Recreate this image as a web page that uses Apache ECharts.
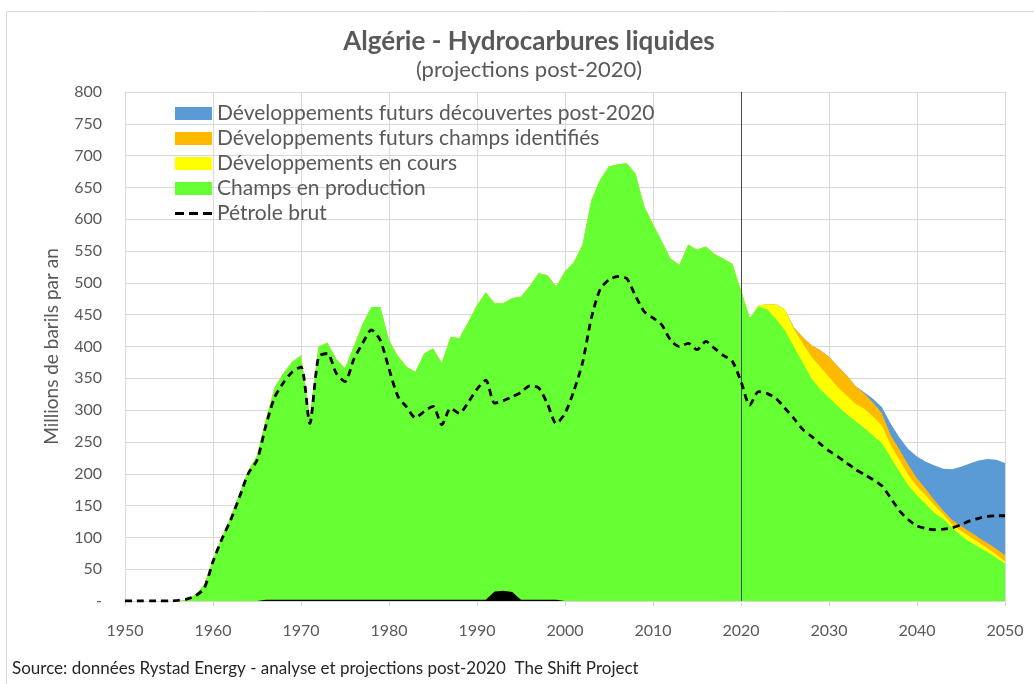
<!DOCTYPE html>
<html>
<head>
<meta charset="utf-8">
<script src="https://cdn.jsdelivr.net/npm/echarts@6/dist/echarts.min.js"></script>
<style>
html,body{margin:0;padding:0;background:#fff;}
#chart{width:1034px;height:684px;}
</style>
</head>
<body>
<div id="chart"></div>
<script>
const years = [1950,1951,1952,1953,1954,1955,1956,1957,1958,1959,
1960,1961,1962,1963,1964,1965,1966,1967,1968,1969,
1970,1971,1972,1973,1974,1975,1976,1977,1978,1979,
1980,1981,1982,1983,1984,1985,1986,1987,1988,1989,
1990,1991,1992,1993,1994,1995,1996,1997,1998,1999,
2000,2001,2002,2003,2004,2005,2006,2007,2008,2009,
2010,2011,2012,2013,2014,2015,2016,2017,2018,2019,
2020,2021,2022,2023,2024,2025,2026,2027,2028,2029,
2030,2031,2032,2033,2034,2035,2036,2037,2038,2039,
2040,2041,2042,2043,2044,2045,2046,2047,2048,2049,2050];

const champsProduction = [0,0,0,0,0,0,0,2,10,25,
65,100,132,168,205,228,285,335,358,376,
386,288,400,406,380,366,400,435,462,462,
410,385,368,360,389,397,374,415,413,438,
465,485,468,468,476,478,495,515,512,494,
518,532,560,630,662,683,686,688,672,620,
592,565,538,528,560,552,557,545,538,530,
488,444,463,458,443,425,400,375,350,333,
320,306,294,283,272,260,248,226,203,182,
166,152,138,129,115,103,93,85,77,68,59];

const devEnCours = [0,0,0,0,0,0,0,0,0,0,
0,0,0,0,0,0,0,0,0,0,
0,0,0,0,0,0,0,0,0,0,
0,0,0,0,0,0,0,0,0,0,
0,0,0,0,0,0,0,0,0,0,
0,0,0,0,0,0,0,0,0,0,
0,0,0,0,0,0,0,0,0,0,
0,0,2,8,23,33,28,30,34,35,
32,30,29,27,30,30,28,19,19,16,
14,14,12,7,5,7,8,7,6,5,3];

const devChampsIdentifies = [0,0,0,0,0,0,0,0,0,0,
0,0,0,0,0,0,0,0,0,0,
0,0,0,0,0,0,0,0,0,0,
0,0,0,0,0,0,0,0,0,0,
0,0,0,0,0,0,0,0,0,0,
0,0,0,0,0,0,0,0,0,0,
0,0,0,0,0,0,0,0,0,0,
0,0,0,0,0,0,2,10,18,26,
32,33,32,28,24,22,19,16,16,16,
13,10,8,6,7,8,8,8,8,9,10];

const devDecouvertes = [0,0,0,0,0,0,0,0,0,0,
0,0,0,0,0,0,0,0,0,0,
0,0,0,0,0,0,0,0,0,0,
0,0,0,0,0,0,0,0,0,0,
0,0,0,0,0,0,0,0,0,0,
0,0,0,0,0,0,0,0,0,0,
0,0,0,0,0,0,0,0,0,0,
0,0,0,0,0,0,0,0,0,0,
0,0,0,0,2,6,10,18,19,25,
34,43,55,66,80,93,107,121,132,140,145];

const autres = [0,0,0,0,0,0,0,0,0,0,
0,0,0,0,0,0,2,2,2,2,
2,2,2,2,2,2,2,2,2,2,
2,2,2,2,2,2,2,2,2,2,
2,2,15,16,14,2,2,2,2,2,
0,0,0,0,0,0,0,0,0,0,
0,0,0,0,0,0,0,0,0,0,
0,0,0,0,0,0,0,0,0,0,
0,0,0,0,0,0,0,0,0,0,
0,0,0,0,0,0,0,0,0,0,0];

const petroleBrut = [0,0,0,0,0,0,1,3,8,20,
62,97,127,163,200,221,275,320,343,360,
368,279,384,389,358,345,380,405,426,410,
365,322,305,288,298,306,277,303,295,312,
333,347,311,315,321,328,338,335,310,279,
295,330,375,445,490,505,510,507,480,455,
445,434,410,400,405,395,408,397,386,377,
345,308,329,326,318,303,287,270,259,247,
236,227,217,207,199,191,181,162,142,128,
118,114,112,113,115,120,126,130,133,134,134];

const yTicks = [0,50,100,150,200,250,300,350,400,450,500,550,600,650,700,750,800];
const xTicks = [1950,1960,1970,1980,1990,2000,2010,2020,2030,2040,2050];
const projectionYear = 2020;

const names = {
  blue: 'Développements futurs découvertes post-2020',
  orange: 'Développements futurs champs identifiés',
  yellow: 'Développements en cours',
  green: 'Champs en production',
  crude: 'Pétrole brut',
  other: 'Autres'
};

// stacked layers (cumulative tops), drawn back to front
const layers = [champsProduction, devEnCours, devChampsIdentifies, devDecouvertes];
const cumulative = [];
let running = years.map(() => 0);
layers.forEach(arr => { running = running.map((v, i) => v + arr[i]); cumulative.push(running.slice()); });

function pairs(arr){ return years.map((y,i)=>[y, arr[i]]); }

const FONT = 'Lato';
const GREY = '#595959';

const chart = echarts.init(document.getElementById('chart'), null, {renderer:'canvas'});

function area(name, data, color, z){
  return {
    name: name, type: 'line', data: pairs(data),
    symbol: 'none', smooth: false, color: color,
    lineStyle: {width: 0, color: color},
    areaStyle: {color: color, opacity: 1},
    itemStyle: {color: color},
    z: z, silent: true
  };
}

const dashIcon = 'path://M0,0h9v3h-9z M14,0h9v3h-9z M28,0h9v3h-9z';

const option = {
  animation: false,
  backgroundColor: '#ffffff',
  title: {
    text: 'Algérie - Hydrocarbures liquides',
    subtext: '(projections post-2020)',
    left: 524, top: 24, textAlign: 'center', itemGap: 4,
    textStyle: {fontFamily: FONT, fontSize: 26, fontWeight: 'bold', color: GREY},
    subtextStyle: {fontFamily: FONT, fontSize: 22, color: GREY}
  },
  grid: {left: 125, right: 29, top: 92, bottom: 83, containLabel: false},
  legend: {
    orient: 'vertical', left: 170, top: 98, itemWidth: 37, itemHeight: 13, itemGap: 4,
    symbolKeepAspect: true,
    textStyle: {fontFamily: FONT, fontSize: 21, color: GREY, lineHeight: 21},
    data: [
      {name: names.blue, icon: 'rect'},
      {name: names.orange, icon: 'rect'},
      {name: names.yellow, icon: 'rect'},
      {name: names.green, icon: 'rect'},
      {name: names.crude, icon: dashIcon}
    ]
  },
  xAxis: {
    type: 'value', min: xTicks[0], max: xTicks[xTicks.length-1], interval: 10,
    axisLine: {show: true, lineStyle: {color: '#d9d9d9', width: 1}},
    axisTick: {show: true, length: 5, lineStyle: {color: '#d9d9d9'}},
    splitLine: {show: true, lineStyle: {color: '#d9d9d9', width: 1}},
    axisLabel: {fontFamily: FONT, fontSize: 16, color: GREY, margin: 22,
      formatter: v => String(v)}
  },
  yAxis: {
    type: 'value', min: yTicks[0], max: yTicks[yTicks.length-1], interval: 50,
    name: 'Millions de barils par an', nameLocation: 'middle', nameGap: 64,
    nameTextStyle: {fontFamily: FONT, fontSize: 19, color: GREY},
    axisLine: {show: false}, axisTick: {show: false},
    splitLine: {show: true, lineStyle: {color: '#d9d9d9', width: 1}},
    axisLabel: {fontFamily: FONT, fontSize: 16, color: GREY, margin: 23,
      formatter: v => v === 0 ? '-' : String(v)}
  },
  series: [
    area(names.blue, cumulative[3], '#5b9bd5', 1),
    area(names.orange, cumulative[2], '#ffba00', 2),
    area(names.yellow, cumulative[1], '#ffff00', 3),
    area(names.green, cumulative[0], '#66ff33', 4),
    {
      name: names.other, type: 'line', data: pairs(autres), symbol: 'none',
      lineStyle: {width: 0, color: '#000'}, areaStyle: {color: '#000', opacity: 1},
      color: '#000', z: 5, silent: true
    },
    {
      name: names.crude, type: 'line', data: pairs(petroleBrut), symbol: 'none',
      smooth: 0.25, color: '#000',
      lineStyle: {color: '#000', width: 2.8, type: [7, 5]},
      itemStyle: {color: '#000'},
      z: 7, silent: true,
      markLine: {
        silent: true, symbol: 'none', label: {show: false},
        lineStyle: {color: '#4a4a4a', width: 1, type: 'solid'},
        data: [{xAxis: projectionYear}]
      }
    }
  ],
  graphic: [
    {type: 'line', shape: {x1: 6.5, y1: 11.5, x2: 1034, y2: 11.5}, style: {stroke: '#d9d9d9', lineWidth: 1}, silent: true},
    {type: 'line', shape: {x1: 6.5, y1: 11.5, x2: 6.5, y2: 684}, style: {stroke: '#d9d9d9', lineWidth: 1}, silent: true},
    {type: 'text', left: 12, top: 660,
      style: {text: 'Source: données Rystad Energy - analyse et projections post-2020  The Shift Project',
        font: '17px Lato', fill: '#262626'}, silent: true}
  ]
};
chart.setOption(option);
</script>
</body>
</html>
